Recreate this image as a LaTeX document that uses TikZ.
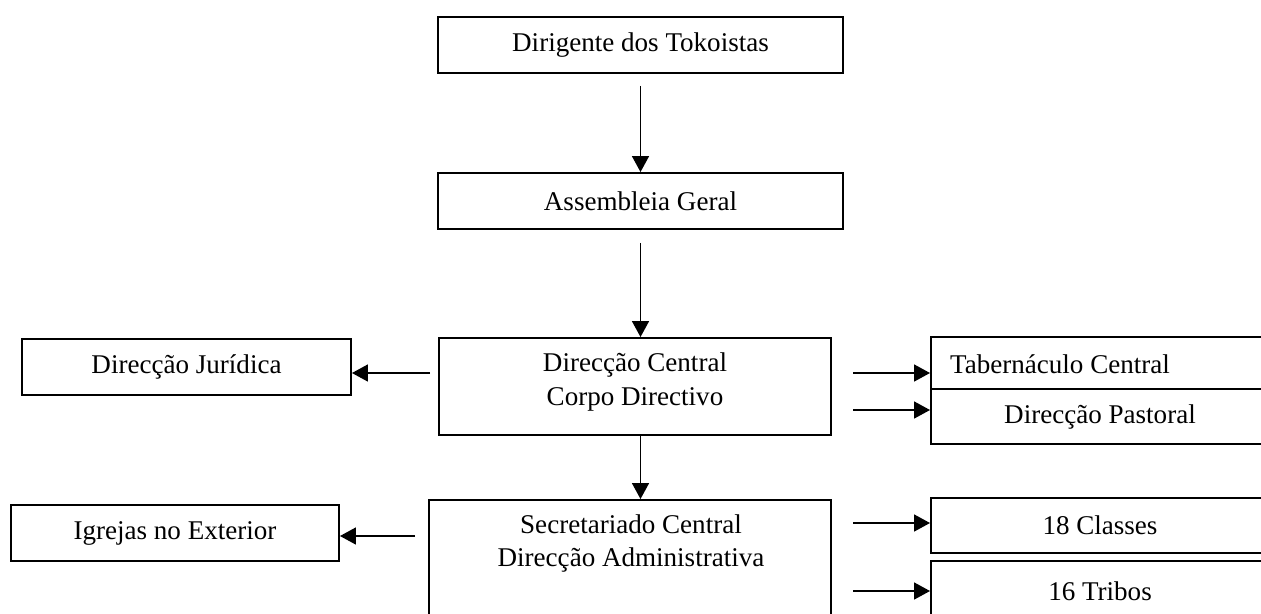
\documentclass[tikz,border=0pt]{standalone}
\usepackage{fontspec}
\setmainfont{Liberation Serif}
\usetikzlibrary{arrows.meta,calc}
\begin{document}
\begin{tikzpicture}[x=0.02cm,y=-0.02cm,
 box/.style={draw, line width=1.1pt, rectangle, inner sep=0pt, font=\fontsize{15.4}{19}\selectfont, align=center},
 txt/.style={font=\fontsize{15.4}{19}\selectfont, align=center, inner sep=0pt},
 arr/.style={line width=0.9pt, -{Triangle[length=0.32cm,width=0.34cm]}}]
\useasboundingbox (0,0) rectangle (1261,613);
\clip (0,0) rectangle (1261,613);
% boxes
\node[box, minimum width={405*0.02cm}, minimum height={56*0.02cm}] (top) at (640.5,45) {Dirigente dos Tokoistas};
\node[box, minimum width={405*0.02cm}, minimum height={56*0.02cm}] (asm) at (640.5,201) {Assembleia Geral};
\node[box, minimum width={392*0.02cm}, minimum height={97*0.02cm}] (central) at (635,386.5) {};
\node[txt] (centralT) at (635,382) {Direcção Central\\Corpo Directivo};
\node[box, minimum width={402*0.02cm}, minimum height={150*0.02cm}] (sec) at (630,575) {};
\node[txt] (secT) at (631,543.5) {Secretariado Central\\Direcção Administrativa};
\node[box, minimum width={329*0.02cm}, minimum height={56*0.02cm}] (jur) at (186.5,367) {Direcção Jurídica};
\node[box, minimum width={328*0.02cm}, minimum height={56*0.02cm}] (igr) at (175,533) {Igrejas no Exterior};
\node[box, minimum width={338*0.02cm}, minimum height={52*0.02cm}] (tab) at (1100,363) {};
\node[txt] (tabT) at (1060,364) {Tabernáculo Central};
\node[box, minimum width={338*0.02cm}, minimum height={55*0.02cm}] (past) at (1100,416.5) {Direcção Pastoral};
\node[box, minimum width={338*0.02cm}, minimum height={55*0.02cm}] (cls) at (1100,525.5) {18 Classes};
\node[box, minimum width={338*0.02cm}, minimum height={89*0.02cm}] (trb) at (1100,605.5) {};
\node[txt] (trbT) at (1100,591) {16 Tribos};
% vertical arrows
\draw[arr, shorten <=0.24cm] (top.south) -- (asm.north);
\draw[arr, shorten <=0.26cm] (asm.south) -- (asm.south |- central.north);
\draw[arr] (central.south -| asm.south) -- (asm.south |- sec.north);
% left arrows
\coordinate (jurS) at (430,373);
\coordinate (igrS) at (415,536);
\draw[arr] (jurS) -- (jur.east |- jurS);
\draw[arr] (igrS) -- (igr.east |- igrS);
% right arrows
\coordinate (tabS) at (853,373);
\coordinate (pastS) at (853,410);
\coordinate (clsS) at (853,523);
\coordinate (trbS) at (853,591);
\draw[arr] (tabS) -- (tab.west |- tabS);
\draw[arr] (pastS) -- (past.west |- pastS);
\draw[arr] (clsS) -- (cls.west |- clsS);
\draw[arr] (trbS) -- (trb.west |- trbS);
\end{tikzpicture}
\end{document}
